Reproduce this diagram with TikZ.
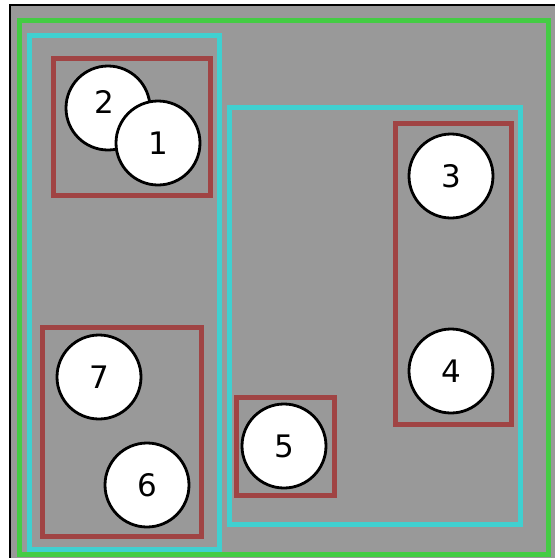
\documentclass[tikz,border=0pt]{standalone}
\usepackage{fontspec}
\setmainfont{DejaVu Sans}
\usepackage{tikz}
\usetikzlibrary{positioning}
\definecolor{bggray}{RGB}{153,153,153}
\definecolor{setgreen}{RGB}{68,204,68}
\definecolor{setcyan}{RGB}{64,208,208}
\definecolor{setred}{RGB}{160,68,68}

\begin{document}
\begin{tikzpicture}[x=1pt,y=-1pt,
    elem/.style={circle,draw,fill=white,line width=2.8pt,minimum size=84pt,inner sep=0pt,font=\fontsize{31}{37}\selectfont},
    outer/.style={draw=setgreen,line width=5pt},
    mid/.style={draw=setcyan,line width=5pt},
    inner/.style={draw=setred,line width=5pt}]
\useasboundingbox (0,0) rectangle (555,558);

% background
\fill[bggray] (10,5) rectangle (560,563);
\draw[line width=2.5pt] (10,5) rectangle (560,563);

% nested boxes
\draw[outer] (19,20) rectangle (548,554);
\draw[mid] (29,35) rectangle (219,549);
\draw[mid] (229,107) rectangle (520,524);
\draw[inner] (53,58) rectangle (210,195);
\draw[inner] (395,123) rectangle (511,424);
\draw[inner] (42,327) rectangle (201,536);
\draw[inner] (236,397) rectangle (334,495);

% elements
\node[elem] (e2) at (108,108) {};
\node[font=\fontsize{31}{37}\selectfont] (l2) at (104,102) {2};
\node[elem] (e1) at (158,143) {1};
\node[elem] (e3) at (451,176) {3};
\node[elem] (e4) at (451,371) {4};
\node[elem] (e7) at (99,377) {7};
\node[elem] (e6) at (147,485) {6};
\node[elem] (e5) at (284,446) {5};

\end{tikzpicture}
\end{document}
